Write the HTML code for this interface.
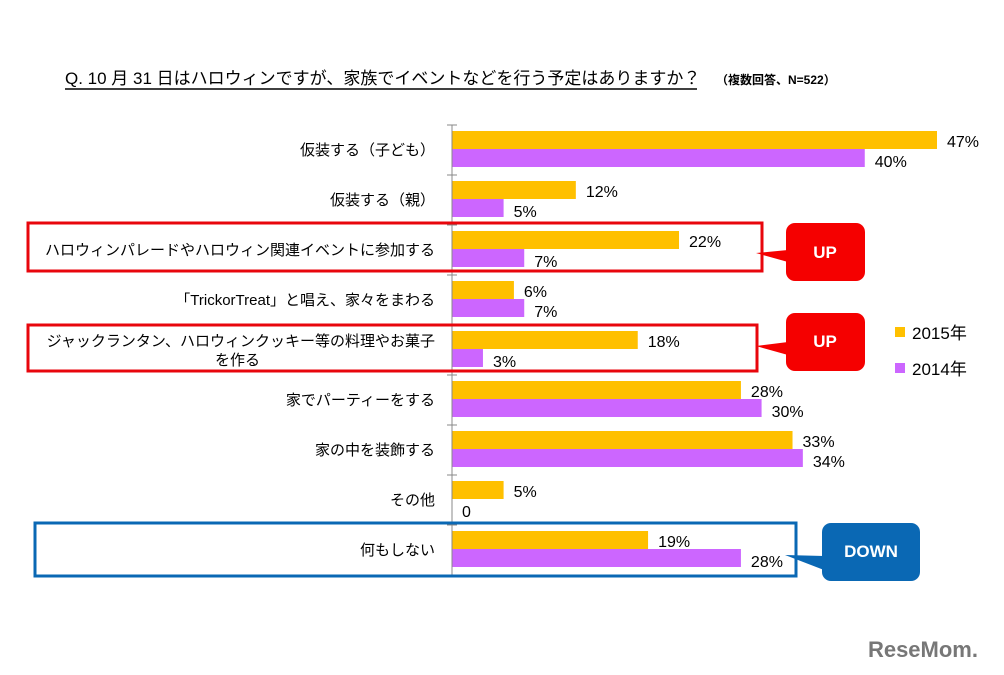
<!DOCTYPE html>
<html><head><meta charset="utf-8"><style>
html,body{margin:0;padding:0;background:#fff;}
body{width:1004px;height:670px;overflow:hidden;position:relative;font-family:"Liberation Sans","Noto Sans CJK JP",sans-serif;}
svg text{font-family:"Liberation Sans","Noto Sans CJK JP",sans-serif;}
</style></head><body>
<svg id="chart" width="1004" height="670">
<text x="65" y="84" font-size="17" fill="#000">Q. 10 月 31 日はハロウィンですが、家族でイベントなどを行う予定はありますか？</text>
<line x1="65" y1="89" x2="697" y2="89" stroke="#000" stroke-width="1.5"/>
<text x="716" y="84" font-size="12" font-weight="bold" fill="#000">（複数回答、N=522）</text>
<g id="bars"></g>
<rect x="28" y="223" width="734" height="48" fill="none" stroke="#e8060c" stroke-width="3"/>
<rect x="28" y="325" width="729" height="46" fill="none" stroke="#e8060c" stroke-width="3"/>
<rect x="35" y="523" width="761" height="53" fill="none" stroke="#0a68b4" stroke-width="3"/>
<g>
<path d="M756 253 L788 262 L788 250 Z" fill="#f50000"/>
<rect x="786" y="223" width="79" height="58" rx="9" fill="#f50000"/>
<text x="825" y="258" text-anchor="middle" font-size="17" font-weight="bold" fill="#fff">UP</text></g>
<g>
<path d="M756 346 L788 355 L788 342 Z" fill="#f50000"/>
<rect x="786" y="313" width="79" height="58" rx="9" fill="#f50000"/>
<text x="825" y="347" text-anchor="middle" font-size="17" font-weight="bold" fill="#fff">UP</text></g>
<g>
<path d="M785 555 L824 570 L824 556 Z" fill="#0a68b4"/>
<rect x="822" y="523" width="98" height="58" rx="9" fill="#0a68b4"/>
<text x="871" y="557" text-anchor="middle" font-size="17" font-weight="bold" fill="#fff">DOWN</text></g>
<g>
<rect x="895" y="327" width="10" height="10" fill="#ffc000"/>
<text x="912" y="339" font-size="17" fill="#000">2015年</text>
<rect x="895" y="363" width="10" height="10" fill="#cc66ff"/>
<text x="912" y="375" font-size="17" fill="#000">2014年</text></g>
<text x="978" y="657" text-anchor="end" font-size="22" font-weight="bold" fill="#777">ReseMom.</text>
</svg>
<script>
const categories=["仮装する（子ども）","仮装する（親）","ハロウィンパレードやハロウィン関連イベントに参加する","「TrickorTreat」と唱え、家々をまわる","ジャックランタン、ハロウィンクッキー等の料理やお菓子|を作る","家でパーティーをする","家の中を装飾する","その他","何もしない"];
const values2015=[47,12,22,6,18,28,33,5,19];
const values2014=[40,5,7,7,3,30,34,0,28];
const NS="http://www.w3.org/2000/svg";
const g=document.getElementById('bars');
const x0=452,pxPer=(937-452)/47,top0=125,rowH=50;
function xs(v){return x0+v*pxPer;}
function mk(t,a){const e=document.createElementNS(NS,t);for(const k in a)e.setAttribute(k,a[k]);g.appendChild(e);return e;}
categories.forEach((c,i)=>{
  const y=top0+i*rowH;
  const b1=mk('rect',{x:x0,y:y+6,width:xs(values2015[i])-x0,height:18,fill:'#ffc000'});
  
  
  const b2=mk('rect',{x:x0,y:y+24,width:xs(values2014[i])-x0,height:18,fill:'#cc66ff'});
  
  
  const t1=mk('text',{x:xs(values2015[i])+10,y:y+22,'font-size':16,fill:'#000'});
  t1.textContent=values2015[i]+'%';
  
  
  const t2=mk('text',{x:xs(values2014[i])+(values2014[i]===0?10:10),y:y+42,'font-size':16,fill:'#000'});
  t2.textContent=values2014[i]===0?'0':values2014[i]+'%';
  
  
  const parts=c.split('|');
  parts.forEach((p,j)=>{
    const lt=mk('text',{x:435,y:y+30+(parts.length>1?(j*19-9):0),'text-anchor':parts.length>1&&j===0?'end':'end','font-size':15,fill:'#000'});
    if(parts.length>1&&j===1){lt.setAttribute('x',260);lt.setAttribute('text-anchor','end');}
    lt.textContent=p;
    
    
  });
  const tk=mk('line',{x1:447,x2:457,y1:y,y2:y,stroke:'#888'});
  
  
});
const tk=mk('line',{x1:447,x2:457,y1:top0+9*rowH,y2:top0+9*rowH,stroke:'#888'});


const ax=mk('line',{x1:x0,x2:x0,y1:top0,y2:top0+9*rowH,stroke:'#888'});


</script>
</body></html>
